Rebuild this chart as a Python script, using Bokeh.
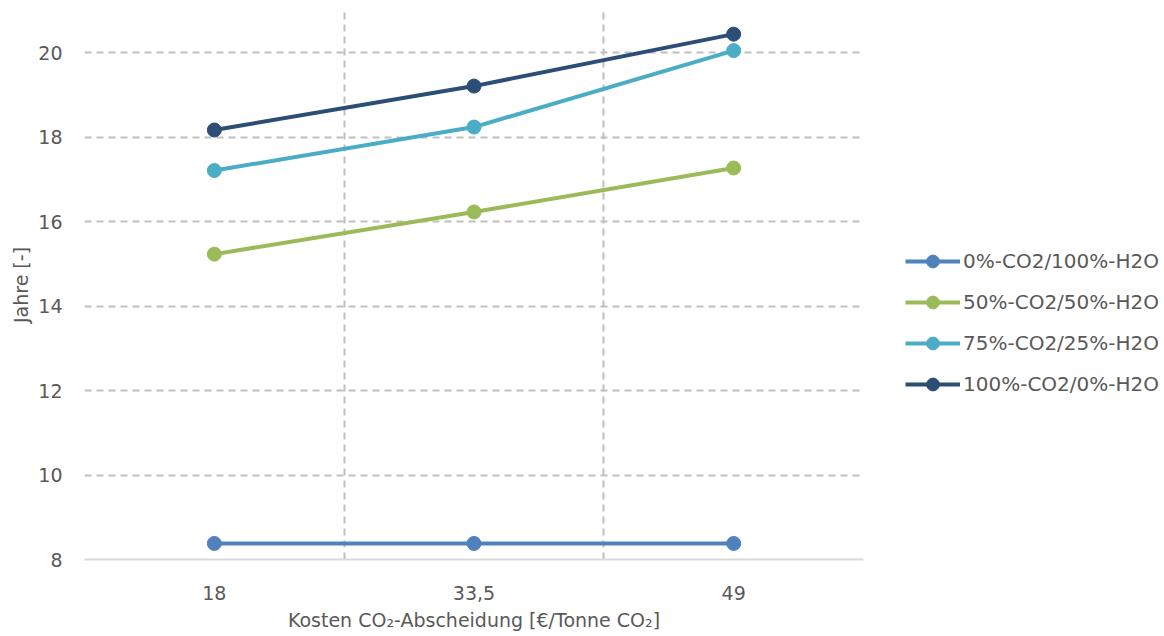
from bokeh.plotting import figure
from bokeh.models import FixedTicker, Legend, LegendItem
from bokeh.embed import file_html
from bokeh.resources import INLINE

categories = ["18", "33,5", "49"]
series_names = ["0%-CO2/100%-H2O", "50%-CO2/50%-H2O", "75%-CO2/25%-H2O", "100%-CO2/0%-H2O"]
s0 = [8.38, 8.38, 8.38]
s50 = [15.23, 16.23, 17.27]
s75 = [17.21, 18.24, 20.05]
s100 = [18.17, 19.21, 20.44]
colors = ["#4F81BD", "#9BBB59", "#4BACC6", "#2C4D75"]
y_ticks = [8, 10, 12, 14, 16, 18, 20]

FONT = "DejaVu Sans"
TXT = "#595959"
FS = "19px"

xs = list(range(len(categories)))

p = figure(frame_width=779, frame_height=549, output_backend="svg", toolbar_location=None,
           x_range=(-0.5, len(categories) - 0.5), y_range=(8, 21))
p.min_border_left = 84
p.min_border_right = 0
p.min_border_top = 10
p.min_border_bottom = 40
p.outline_line_color = None

renderers = []
for name, vals, c in zip(series_names, [s0, s50, s75, s100], colors):
    l = p.line(xs, vals, line_color=c, line_width=4)
    s = p.scatter(xs, vals, size=14, fill_color=c, line_color=c)
    renderers.append((name, [l, s]))

legend = Legend(items=[LegendItem(label=n, renderers=r) for n, r in renderers])
legend.location = (42, 159)
legend.padding = 0
legend.margin = 0
legend.border_line_alpha = 0
legend.background_fill_alpha = 0
legend.glyph_width = 55
legend.glyph_height = 32
legend.label_height = 32
legend.spacing = 9
legend.label_standoff = 3
legend.label_text_font = FONT
legend.label_text_font_size = "20px"
legend.label_text_color = TXT
p.add_layout(legend, "right")

# x axis
p.xaxis.ticker = FixedTicker(ticks=xs)
p.xaxis.major_label_overrides = {i: c for i, c in zip(xs, categories)}
p.xaxis.major_tick_line_color = None
p.xaxis.minor_tick_line_color = None
p.xaxis.axis_line_color = "#D9D9D9"
p.xaxis.axis_line_width = 2
p.xaxis.major_label_text_font = FONT
p.xaxis.major_label_text_font_size = FS
p.xaxis.major_label_text_color = TXT
p.xaxis.major_label_standoff = 20
p.xaxis.axis_label = "Kosten CO\u2082-Abscheidung [\u20ac/Tonne CO\u2082]"
p.xaxis.axis_label_text_font = FONT
p.xaxis.axis_label_text_font_size = FS
p.xaxis.axis_label_text_font_style = "normal"
p.xaxis.axis_label_text_color = TXT
p.xaxis.axis_label_standoff = 6

# y axis
p.yaxis.ticker = FixedTicker(ticks=y_ticks)
p.yaxis.axis_line_color = None
p.yaxis.major_tick_line_color = None
p.yaxis.minor_tick_line_color = None
p.yaxis.major_label_text_font = FONT
p.yaxis.major_label_text_font_size = FS
p.yaxis.major_label_text_color = TXT
p.yaxis.major_label_standoff = 16
p.yaxis.axis_label = "Jahre [-]"
p.yaxis.axis_label_text_font = FONT
p.yaxis.axis_label_text_font_size = FS
p.yaxis.axis_label_text_font_style = "normal"
p.yaxis.axis_label_text_color = TXT
p.yaxis.axis_label_standoff = 3

# grids
p.xgrid.ticker = FixedTicker(ticks=[i - 0.5 for i in range(len(categories) + 1)])
p.xgrid.grid_line_color = "#BFBFBF"
p.xgrid.grid_line_dash = "7 5"
p.xgrid.grid_line_width = 2
p.ygrid.ticker = FixedTicker(ticks=y_ticks[1:])
p.ygrid.grid_line_color = "#BFBFBF"
p.ygrid.grid_line_dash = "7 5"
p.ygrid.grid_line_width = 2

open("out.html", "w").write(file_html(p, INLINE))
